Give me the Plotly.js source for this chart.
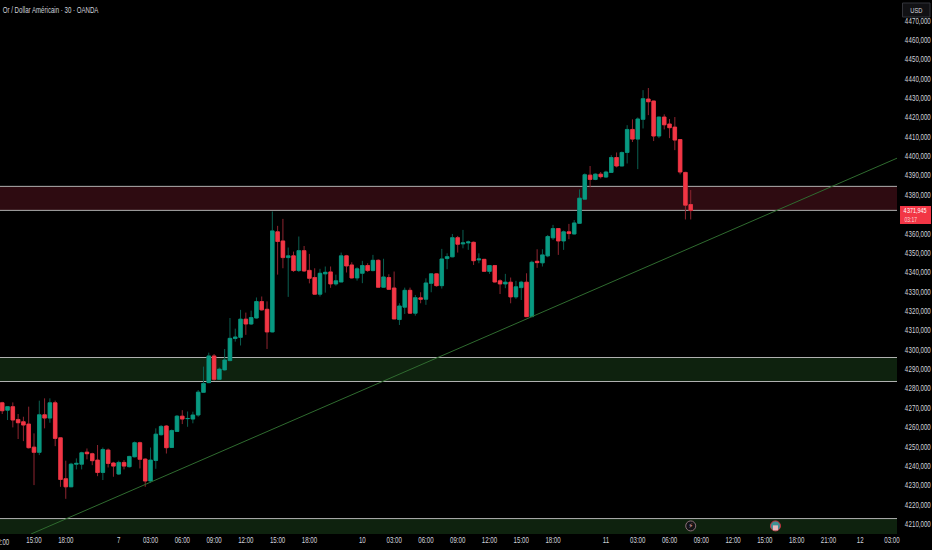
<!DOCTYPE html>
<html>
<head>
<meta charset="utf-8">
<script src="https://cdn.plot.ly/plotly-3.0.1.min.js"></script>
<style>html,body{margin:0;padding:0;background:#000}#c{width:932px;height:550px}</style>
</head>
<body>
<div id="c"></div>
<script>
const firstBar = -6;
const opens = [4272.6,4268.8,4270.6,4264,4262.8,4261.6,4249.7,4247,4266.4,4264.7,4272.6,4254.5,4233.4,4229.2,4240.9,4240.9,4247.1,4246.3,4243,4236.6,4248.2,4241.5,4235.8,4241.8,4239.6,4244.7,4252,4243.5,4232.2,4242.8,4256.1,4260.6,4249.5,4257.8,4265.7,4264.4,4264.2,4266.3,4278,4283,4296.8,4284.7,4289.6,4294.4,4305.8,4306.4,4315.8,4313.3,4316.4,4324.9,4320.9,4309.2,4360.9,4356.2,4347.6,4348.5,4340.9,4351.2,4341,4337.3,4328.7,4339.2,4340.2,4334,4335,4348.5,4343.8,4337.1,4339.5,4343.5,4340.9,4346.2,4332.3,4337.3,4331.9,4315.6,4322,4330.7,4318.9,4326.8,4326.1,4334.3,4339.2,4333.1,4347.1,4348,4357.9,4354.7,4355.2,4355.5,4346.4,4346.7,4340.5,4343.5,4335.6,4334,4334.9,4327.3,4332.1,4334.9,4317.1,4345.7,4344.9,4348.5,4357.8,4362.6,4356.2,4360.9,4359.8,4365.3,4377.8,4390.2,4388,4390.7,4389.2,4391.6,4399.3,4394.9,4401.9,4413.8,4408.8,4419,4429.5,4428.5,4410.4,4420.2,4416.6,4415,4408.6,4391.6,4375];
const highs = [4273.1,4270.9,4272.8,4266.8,4265.4,4270.6,4256.8,4273.7,4274.9,4274.9,4273.7,4254.5,4242.7,4241.6,4243.9,4247.3,4249,4246.8,4250.8,4249.5,4249,4242.1,4242.7,4243,4245.2,4252.6,4252.5,4243.9,4249.5,4259.4,4261.1,4261.1,4258.8,4266.3,4268.8,4268.1,4268,4279.2,4291.3,4298.5,4297.8,4290.8,4300.4,4316.4,4310.9,4320.6,4319.2,4320.2,4327,4327.5,4325,4371.4,4364,4367.6,4352.8,4350.7,4358.5,4353.6,4349.5,4342.1,4341.8,4343,4343,4338.8,4350.2,4349,4345.2,4342.6,4345.9,4344.7,4349,4346.7,4347,4339,4340.4,4324,4332.1,4332.1,4328.3,4329.7,4336.9,4339.2,4339.5,4352.1,4349.8,4359.8,4358.8,4361.9,4356.4,4355.9,4349.8,4346.9,4343.8,4343.8,4336.4,4339.2,4337.3,4335.6,4335.6,4339.5,4346,4351.9,4351.9,4359.3,4364.5,4362.8,4361.6,4365,4367,4382.8,4391.1,4394.9,4391.1,4391.8,4392.5,4400.5,4401.9,4402.4,4416,4419,4420,4434.1,4435.2,4428.6,4420.4,4421.6,4419.2,4420.2,4408.8,4391.9,4382.5];
const lows = [4266.8,4263.7,4259.9,4253.9,4252.8,4249,4230.1,4245.6,4259.4,4262.3,4250.2,4229.2,4223,4229.2,4238.2,4238.2,4243.4,4240.4,4234.7,4232.7,4239.2,4234.4,4235.3,4238.2,4239.2,4244.4,4238.7,4229.2,4231.3,4238.5,4255.7,4246.4,4249.5,4257.5,4261.6,4260.2,4262,4265.4,4277.8,4282.8,4284,4284.5,4289.2,4294,4304.2,4302.2,4307.7,4312.8,4316.1,4320.2,4300.4,4309,4338.8,4342.1,4327.3,4340.2,4340.2,4340.2,4334.3,4328.6,4327.5,4329.5,4332,4333.1,4335,4339.9,4336.8,4335.7,4334.4,4340.2,4340.5,4332.3,4332.3,4330.9,4315.9,4312.8,4318.5,4318.5,4317.6,4324,4323.2,4329.7,4332.6,4331.6,4341.6,4347.8,4350.2,4352.4,4351.6,4343.8,4344.7,4340.2,4339.2,4334.7,4328.8,4331.8,4324,4326.3,4325.7,4317.1,4317.1,4342.3,4343,4347.8,4356.7,4349,4351.6,4357.1,4359.6,4365,4377.8,4383.9,4387.6,4388.5,4388.8,4391.4,4394.2,4394.9,4396.2,4407.3,4393.3,4414.3,4421.2,4407.8,4409.3,4413.8,4409.3,4403.1,4390.6,4367.3,4367.3];
const closes = [4268.5,4270.6,4263.7,4262.3,4261.1,4249.4,4247,4266.4,4264.7,4272.6,4254.2,4233,4229.2,4240.9,4241.3,4246.8,4246.3,4242.7,4236.6,4248.5,4241.3,4239.9,4241.8,4239.9,4244.9,4252,4243.4,4232.2,4243,4256.4,4260.4,4249.4,4258.3,4265.7,4264.2,4264.5,4266.3,4278.1,4282.6,4296.8,4284.7,4290,4294.7,4305.9,4306.6,4315.8,4313.3,4316.6,4324.9,4320.6,4309.2,4361.4,4355.9,4347.6,4348.5,4340.9,4351.2,4340.7,4336.9,4328.7,4339.5,4340,4334,4335.6,4348.5,4343.3,4337.1,4341.8,4343.5,4340.9,4346.2,4332.3,4337.6,4331.2,4315.9,4322.6,4330.7,4318.9,4326.9,4326.1,4334.5,4339.2,4333.1,4346.9,4348.1,4357.9,4354.5,4355.2,4355.7,4346,4346.9,4340.5,4343.5,4335,4334,4334.9,4327.3,4332.5,4334.9,4317.1,4345.2,4345,4349,4358.5,4362.6,4356.2,4360.9,4360,4365.5,4378.3,4390.4,4388,4390.7,4389.4,4391.8,4399.3,4394.9,4401.9,4413.8,4408.8,4419.2,4429.7,4428.1,4410.4,4420.2,4416.2,4414.7,4408.3,4391.8,4374.7,4371.9];

const timeTickBars = [0,6,16,22,28,34,40,46,52,62,68,74,80,86,92,98,108,114,120,126,132,138,144,150,156,162];
const timeTickLabels = ['15:00','18:00','7','03:00','06:00','09:00','12:00','15:00','18:00','10','03:00','06:00','09:00','12:00','15:00','18:00','11','03:00','06:00','09:00','12:00','15:00','18:00','21:00','12','03:00'];
const leftEdgeBar = -6;
const leftEdgeLabel = '12:00';
const priceTicks = [4210,4220,4230,4240,4250,4260,4270,4280,4290,4300,4310,4320,4330,4340,4350,4360,4380,4390,4400,4410,4420,4430,4440,4450,4460,4470];
const priceTickLabels = ['4\u200A210,000','4\u200A220,000','4\u200A230,000','4\u200A240,000','4\u200A250,000','4\u200A260,000','4\u200A270,000','4\u200A280,000','4\u200A290,000','4\u200A300,000','4\u200A310,000','4\u200A320,000','4\u200A330,000','4\u200A340,000','4\u200A350,000','4\u200A360,000','4\u200A380,000','4\u200A390,000','4\u200A400,000','4\u200A410,000','4\u200A420,000','4\u200A430,000','4\u200A440,000','4\u200A450,000','4\u200A460,000','4\u200A470,000'];

const redZone = [4372.0, 4384.4];
const greenZone = [4283.6, 4296.0];
const lowZone = [4200, 4212.8];
const trendBars = [-0.57, 163.5];
const trendPrices = [4204.8, 4399.6];
const lastPrice = '4\u200A371,945';
const countdown = '03:17';
const eventBars = [124, 140];
const eventPrice = [4209, 4209];

const FONT = '"Liberation Sans", sans-serif';
const TEXT_SQUEEZE = 0.72;
const TEXT_COLOR = '#d1d4dc';
const bars = opens.map((_, i) => i + firstBar);
const bodyTop = opens.map((o, i) => Math.max(o, closes[i]));
const bodyBottom = opens.map((o, i) => Math.min(o, closes[i]));
const UP = '#089981', DOWN = '#f23645', UPW = '#0a5f51', DOWNW = '#8f2530';

const wicks = {type:'candlestick', x:bars, open:opens, high:highs, low:lows, close:closes,
  increasing:{line:{color:UPW,width:1}, fillcolor:UP}, decreasing:{line:{color:DOWNW,width:1}, fillcolor:DOWN},
  hoverinfo:'skip', showlegend:false};
const bodies = {type:'candlestick', x:bars, open:opens, high:bodyTop, low:bodyBottom, close:closes,
  increasing:{line:{color:UP,width:0.6}, fillcolor:UP}, decreasing:{line:{color:DOWN,width:0.6}, fillcolor:DOWN},
  hoverinfo:'skip', showlegend:false};
const trend = {type:'scatter', mode:'lines', x:trendBars, y:trendPrices, line:{color:'#2f6b2f',width:1}, hoverinfo:'skip', showlegend:false};
const events = {type:'scatter', mode:'markers+text', x:eventBars, y:eventPrice,
  marker:{size:10, color:['#131316','#3e8f92'], line:{color:['#8a6f78','#d12f3b'],width:1}},
  text:['\u26A1',''], textposition:'middle center', textfont:{size:7,color:'#e0a8b0',family:'DejaVu Sans'},
  hoverinfo:'skip', showlegend:false};
const flagStripes = {type:'scatter', mode:'markers', x:[eventBars[1]], y:[eventPrice[1]-1],
  marker:{symbol:'square', size:5, color:'#e8b8bc', line:{width:0}}, hoverinfo:'skip', showlegend:false};

const zone = (range, fill) => ({type:'rect', xref:'paper', yref:'y', x0:0, x1:1, y0:range[0], y1:range[1], fillcolor:fill, line:{width:0}, layer:'below'});
const edge = (p) => ({type:'line', xref:'paper', yref:'y', x0:0, x1:1, y0:p, y1:p, line:{color:'#b0b0b0',width:1}, layer:'below'});

const layout = {
  width:932, height:550, paper_bgcolor:'#000', plot_bgcolor:'#000',
  margin:{l:0,r:35,t:0,b:16,pad:0}, showlegend:false, boxgap:0.05,
  font:{family:FONT, size:8.5, color:TEXT_COLOR},
  xaxis:{type:'linear', range:[-6.42,162.95], rangeslider:{visible:false}, showgrid:false, zeroline:false, showline:false,
    tickmode:'array', tickvals:timeTickBars, ticktext:timeTickLabels, ticks:'',
    tickfont:{size:8.5,color:TEXT_COLOR}},
  yaxis:{type:'linear', side:'right', range:[4204.83,4480.66], showgrid:false, zeroline:false, showline:false,
    tickmode:'array', tickvals:priceTicks, ticktext:priceTickLabels, ticks:'outside', ticklen:5, tickcolor:'rgba(0,0,0,0)',
    tickfont:{size:8.5,color:TEXT_COLOR}},
  shapes:[zone(redZone,'#2e0b11'), zone(greenZone,'#0e220e'), zone(lowZone,'#0e220e'),
    edge(redZone[0]), edge(redZone[1]), edge(greenZone[0]), edge(greenZone[1]), edge(lowZone[1]),
    {type:'rect', xref:'paper', yref:'paper', x0:900/897, x1:931/897, y0:(534-224)/534, y1:(534-206)/534, fillcolor:DOWN, line:{width:0}, layer:'above'},
    {type:'rect', xref:'paper', yref:'paper', x0:902.5/897, x1:930/897, y0:(534-17)/534, y1:(534-3)/534, fillcolor:'#111114', line:{color:'#33343a',width:1}, layer:'above'}
  ],
  annotations:[
    {xref:'paper', yref:'paper', x:50.5/897, y:(534-10)/534, xanchor:'center', yanchor:'middle', text:'Or / Dollar Américain \u00B7 30 \u00B7 OANDA', showarrow:false, font:{size:8.5,color:TEXT_COLOR}},
    {xref:'x', yref:'paper', x:leftEdgeBar, y:-8/534, xanchor:'center', yanchor:'middle', text:leftEdgeLabel, showarrow:false, font:{size:8.5,color:TEXT_COLOR}},
    {xref:'paper', yref:'paper', x:916/897, y:(534-10)/534, xanchor:'center', yanchor:'middle', text:'USD', showarrow:false, font:{size:8,color:'#d5d6da'}},
    {xref:'paper', yref:'paper', x:915/897, y:(534-210.5)/534, xanchor:'center', yanchor:'middle', text:lastPrice, showarrow:false, font:{size:7.5,color:'#ffffff'}},
    {xref:'paper', yref:'paper', x:910.5/897, y:(534-219.5)/534, xanchor:'center', yanchor:'middle', text:countdown, showarrow:false, font:{size:7,color:'#ffd5d9'}}
  ]
};
Plotly.newPlot('c',[wicks,bodies,trend,events,flagStripes],layout,{displayModeBar:false,staticPlot:true}).then(() => {
  document.querySelectorAll('#c svg text').forEach(t => {
    if (t.textContent === '\u26A1' || !t.textContent) return;
    const ax = parseFloat(t.getAttribute('x')) || 0;
    const prior = t.getAttribute('transform') || '';
    t.setAttribute('transform', prior + ' translate(' + ax + ',0) scale(' + TEXT_SQUEEZE + ',1) translate(' + (-ax) + ',0)');
  });
});
</script>
</body>
</html>
